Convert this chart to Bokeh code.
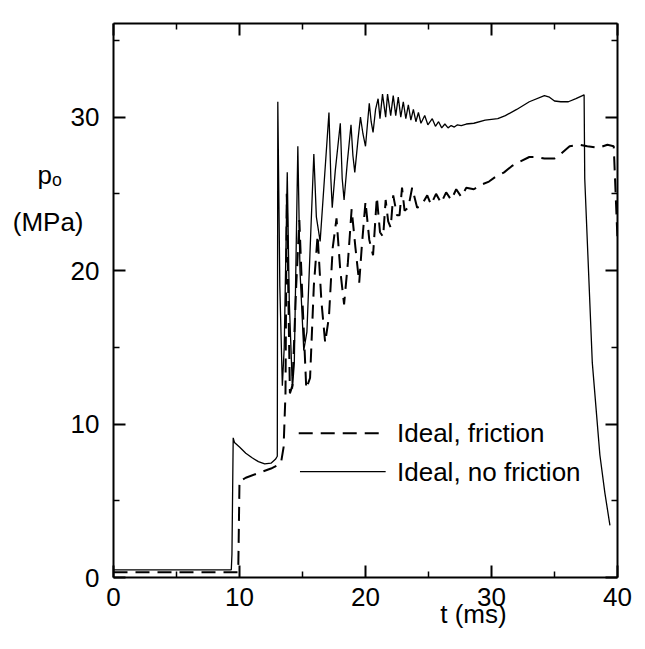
from bokeh.plotting import figure
from bokeh.models import LinearAxis, Range1d, Label, FixedTicker
from bokeh.embed import file_html
from bokeh.resources import INLINE

# Ideal, no friction (solid)
t_nofric = [0, 9.35, 9.4, 9.5, 9.6, 10.0, 10.5, 11.0, 11.5, 12.0, 12.5, 12.85, 13.0,
            13.04, 13.2, 13.4, 13.55, 13.79, 13.95, 14.2, 14.35, 14.63, 14.8, 15.1, 15.35,
            15.9, 16.1, 16.4, 16.7, 17.1, 17.25, 17.36, 17.6, 18.0, 18.15, 18.3, 18.55,
            18.85, 19.0, 19.15, 19.4, 19.6, 19.8, 20.0, 20.15, 20.3, 20.45, 20.6, 20.8, 21.0,
            21.15, 21.35, 21.6, 21.75, 22.0, 22.2, 22.4, 22.6, 22.8, 23.0, 23.2, 23.4, 23.6,
            23.8, 24.0, 24.2, 24.4, 24.7, 24.95, 25.3, 25.55, 25.8, 26.05, 26.3, 26.55,
            26.8, 27.05, 27.3, 27.6, 28.0, 28.6, 29.5, 30.5, 31.1, 32.0, 33.0, 34.2,
            34.6, 35.0, 35.5, 36.1, 36.7, 37.35, 37.4, 38.0, 38.6, 39.0, 39.4]
p_nofric = [0.5, 0.5, 1.5, 9.1, 8.8, 8.5, 8.1, 7.8, 7.55, 7.4, 7.45, 7.7, 7.9,
            31.0, 19.0, 12.5, 15.0, 26.4, 18.0, 12.3, 14.0, 28.1, 20.0, 14.8, 16.0,
            27.6, 23.5, 21.9, 25.5, 30.3, 26.0, 24.1, 26.5, 29.6, 26.0, 24.6, 27.0,
            29.5, 27.5, 26.4, 28.5, 30.0, 28.9, 28.1, 29.5, 30.9, 29.7, 29.0, 30.5, 31.2,
            29.9, 31.5, 30.0, 31.5, 30.1, 31.4, 30.1, 31.3, 30.0, 31.0, 29.9, 30.8, 29.8,
            30.5, 29.7, 30.3, 29.6, 30.1, 29.5, 29.9, 29.4, 29.7, 29.3, 29.55, 29.3,
            29.45, 29.35, 29.5, 29.45, 29.55, 29.6, 29.8, 29.9, 30.1, 30.5, 31.0, 31.4,
            31.3, 31.05, 31.0, 31.0, 31.2, 31.45, 26.0, 14.0, 8.0, 5.5, 3.4]

# Ideal, friction (dashed)
t_fric = [0, 9.9, 10.0, 10.1, 10.5, 11.5, 12.5, 13.0, 13.3, 13.5, 13.65, 13.75, 14.0,
          14.2, 14.5, 14.75, 15.0, 15.3, 15.6, 15.9, 16.2, 16.5, 16.8, 17.1, 17.4, 17.7,
          18.0, 18.3, 18.6, 18.9, 19.2, 19.5, 19.7, 20.0, 20.3, 20.6, 20.9, 21.15, 21.4,
          21.6, 21.8, 22.0, 22.2, 22.5, 22.7, 22.9, 23.1, 23.4, 23.7, 24.1, 24.4, 24.9,
          25.2, 25.6, 26.0, 26.4, 26.8, 27.2, 27.6, 28.0, 28.6, 29.2, 29.8, 30.3, 31.0,
          31.6, 32.0, 33.0, 33.6, 34.2, 35.0, 35.5, 36.2, 37.0, 37.6, 38.5, 39.2, 39.7, 40.0]
p_fric = [0.35, 0.35, 6.3, 6.3, 6.5, 6.8, 7.1, 7.3, 7.5, 8.5, 12.0, 25.0, 12.0,
          12.5, 19.0, 23.3, 18.0, 12.3, 13.0, 19.0, 22.3, 18.0, 15.3, 17.0, 21.5, 23.4,
          20.0, 17.8, 20.5, 24.0, 21.5, 19.2, 21.5, 24.5, 22.0, 21.0, 24.8, 22.5, 22.2,
          24.6, 23.2, 22.8, 24.9, 23.6, 23.6, 25.4, 23.9, 24.1, 25.4, 24.1, 24.2, 24.9,
          24.3, 25.0, 24.4, 25.1, 24.6, 25.3, 24.8, 25.4, 25.3, 25.6, 25.8, 26.1, 26.4,
          26.8, 27.0, 27.4, 27.4, 27.3, 27.3, 27.6, 28.1, 28.2, 28.1, 28.0, 28.2, 28.1, 22.0]

x_ticks = [0, 10, 20, 30, 40]
y_ticks = [0, 10, 20, 30]
x_minor = [5, 15, 25, 35]
y_minor = [5, 15, 25, 35]

legend_labels = ["Ideal, friction", "Ideal, no friction"]
x_title = "t (ms)"
y_title = "p\u2092"
y_unit = "(MPa)"

FONT = "Liberation Sans"
FS = "26px"
NB = "\u00a0"

p = figure(width=645, height=649, output_backend="svg", toolbar_location=None,
           x_range=Range1d(0, 40), y_range=Range1d(0, 36.1),
           min_border_left=113, min_border_right=28, min_border_top=23,
           min_border_bottom=72, x_axis_type=None, y_axis_type=None)
p.outline_line_color = None
p.grid.visible = False
p.background_fill_color = "white"
p.border_fill_color = "white"


def style_axis(ax, ticks, minor, show_labels):
    ax.ticker = FixedTicker(ticks=ticks, minor_ticks=minor)
    ax.axis_line_color = "black"
    ax.axis_line_width = 2
    ax.major_tick_line_color = "black"
    ax.major_tick_line_width = 2
    ax.minor_tick_line_color = "black"
    ax.minor_tick_line_width = 1.5
    ax.major_tick_in = 12
    ax.major_tick_out = 0
    ax.minor_tick_in = 6
    ax.minor_tick_out = 0
    ax.major_label_text_font = FONT
    ax.major_label_text_font_size = FS
    ax.major_label_text_color = "black" if show_labels else None


def text_axis(ax, pos, labels, standoff, size):
    ax.ticker = FixedTicker(ticks=pos, minor_ticks=[])
    ax.major_label_overrides = {v: s for v, s in zip(pos, labels)}
    ax.axis_line_color = None
    ax.major_tick_line_color = None
    ax.minor_tick_line_color = None
    ax.major_tick_in = 0
    ax.major_tick_out = 0
    ax.minor_tick_in = 0
    ax.minor_tick_out = 0
    ax.major_label_standoff = standoff
    ax.major_label_text_font = FONT
    ax.major_label_text_font_size = size
    ax.major_label_text_color = "black"


xb = LinearAxis()
style_axis(xb, x_ticks, x_minor, True)
xb.major_label_standoff = 10
p.add_layout(xb, "below")

xb2 = LinearAxis()
text_axis(xb2, [28.57], [x_title], -10, FS)
p.add_layout(xb2, "below")

yl = LinearAxis()
style_axis(yl, y_ticks, y_minor, True)
yl.major_label_standoff = 14
p.add_layout(yl, "left")

yl2 = LinearAxis()
text_axis(yl2, [26.25, 23.15], [y_title + NB * 3, y_unit], -16, FS)
p.add_layout(yl2, "left")

xt = LinearAxis()
style_axis(xt, x_ticks, x_minor, False)
xt.major_label_text_font_size = "0px"
p.add_layout(xt, "above")

yr = LinearAxis()
style_axis(yr, y_ticks, y_minor, False)
yr.major_label_text_font_size = "0px"
p.add_layout(yr, "right")

p.line(t_fric, p_fric, line_color="black", line_width=2, line_dash="14 8")
p.line(t_nofric, p_nofric, line_color="black", line_width=1.3)

# legend drawn as lines + text in data space
p.line([14.7, 21.6], [9.4, 9.4], line_color="black", line_width=2, line_dash="14 8")
p.line([14.8, 21.6], [6.9, 6.9], line_color="black", line_width=1.3)
p.add_layout(Label(x=22.5, y=9.4, text=legend_labels[0], text_font=FONT,
                   text_font_size=FS, text_baseline="middle", text_color="black"))
p.add_layout(Label(x=22.5, y=6.9, text=legend_labels[1], text_font=FONT,
                   text_font_size=FS, text_baseline="middle", text_color="black"))

open("out.html", "w").write(file_html(p, INLINE))
